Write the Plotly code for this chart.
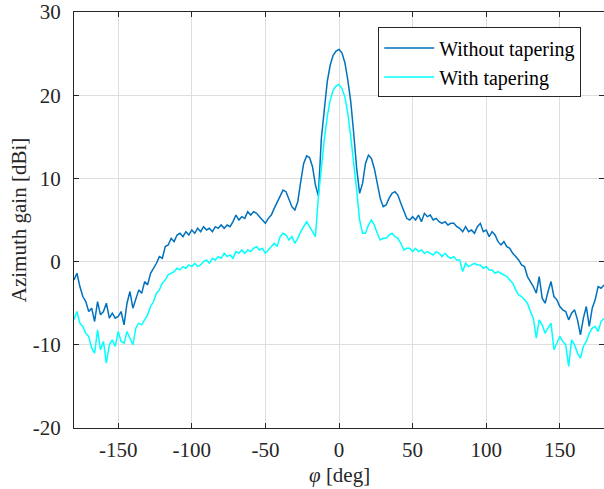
import numpy as np
import plotly.graph_objects as go

phi = list(range(-180, 181, 2))

gain_without = [
    -2.2, -1.4, -3.0, -4.2, -4.8, -6.0, -5.6, -7.2, -4.8, -6.4,
    -6.0, -5.0, -6.8, -6.2, -6.8, -6.6, -6.0, -7.6, -5.0, -3.6,
    -5.6, -4.4, -3.4, -3.8, -2.4, -2.8, -1.4, -0.8, -0.2, 0.6,
    0.4, 1.8, 2.0, 2.8, 2.4, 3.2, 3.4, 3.0, 3.6, 3.2,
    3.8, 3.4, 4.0, 3.6, 4.2, 3.8, 4.0, 3.6, 4.2, 4.0,
    4.4, 4.0, 4.4, 4.2, 4.8, 5.6, 5.0, 5.4, 5.2, 6.0,
    5.6, 6.0, 5.8, 5.4, 5.0, 4.6, 5.2, 5.6, 6.4, 7.2,
    8.0, 8.6, 8.4, 7.6, 6.6, 6.2, 7.2, 9.6, 11.8, 12.7,
    12.5, 11.4, 9.2, 7.9, 14.8, 18.2, 21.6, 23.6, 24.8, 25.3,
    25.5,
    25.1, 23.9, 21.8, 19.2, 15.4, 11.2, 8.2, 9.4, 11.8, 12.8,
    12.4, 11.2, 9.4, 7.6, 6.6, 6.8, 7.6, 8.2, 8.4, 8.0,
    7.0, 6.0, 5.2, 5.0, 5.4, 5.0, 5.6, 4.8, 5.8, 5.4,
    5.6, 5.0, 5.2, 4.8, 4.6, 4.8, 4.4, 4.6, 4.6, 4.2,
    4.0, 3.6, 4.2, 3.6, 3.8, 3.4, 4.2, 4.6, 3.6, 3.8,
    3.0, 3.6, 3.2, 2.4, 2.0, 2.4, 1.8, 1.6, 1.0, 0.6,
    0.2, -0.4, -0.6, -1.8, -2.4, -3.0, -3.8, -1.8, -4.4, -5.0,
    -3.6, -2.4, -4.2, -4.6, -5.4, -5.8, -6.0, -7.0, -6.2, -5.8,
    -7.0, -8.8, -6.8, -5.4, -7.8, -5.6, -4.6, -3.0, -3.2, -2.8,
]

gain_with = [
    -7.0, -6.0, -7.4, -7.8, -8.6, -9.0, -10.4, -11.0, -8.2, -10.6,
    -9.6, -12.2, -10.0, -9.4, -10.2, -8.4, -9.6, -9.8, -8.4, -9.2,
    -10.0, -8.0, -7.4, -7.6, -7.0, -6.4, -5.4, -4.8, -3.8, -3.4,
    -2.6, -2.2, -1.6, -1.4, -1.2, -0.8, -1.0, -0.6, -0.8, -0.4,
    -0.6, -0.2, -0.6, -0.4, 0.0, 0.2, -0.2, 0.4, 0.2, 0.6,
    0.4, 1.0, 0.6, 0.8, 0.4, 1.2, 1.0, 1.4, 1.0, 1.4,
    1.2, 1.6, 1.8, 1.4, 1.6, 1.0, 1.4, 1.8, 2.2, 1.8,
    3.0, 3.4, 3.2, 2.6, 3.0, 2.2, 2.8, 3.6, 4.2, 4.8,
    4.2, 3.6, 3.0, 7.8, 11.4, 14.6, 17.4, 19.4, 20.6, 21.1,
    21.3,
    20.8, 19.8, 17.8, 15.0, 12.0, 8.6, 5.0, 3.4, 3.4, 4.4,
    5.0, 4.4, 3.4, 2.6, 2.8, 2.8, 3.2, 3.4, 3.0, 2.8,
    2.2, 1.4, 1.6, 1.6, 1.2, 1.6, 1.2, 1.4, 1.0, 1.2,
    1.0, 0.8, 1.2, 1.0, 0.6, 1.0, 0.6, 0.4, 0.6, 0.2,
    0.2, -1.2, -0.2, -0.6, -0.4, -0.2, -0.4, -0.4, -0.8, -0.6,
    -1.0, -1.0, -1.4, -1.2, -1.4, -1.6, -1.8, -2.2, -2.6, -3.4,
    -4.0, -4.2, -4.6, -5.0, -6.0, -6.8, -9.2, -7.0, -7.6, -8.6,
    -8.0, -7.4, -10.6, -9.8, -9.0, -9.6, -10.0, -12.6, -9.4, -10.0,
    -11.0, -11.6, -10.2, -9.6, -8.6, -8.0, -7.8, -8.4, -7.2, -6.8,
]

x_ticks = [-150, -100, -50, 0, 50, 100, 150]
x_tick_labels = ["-150", "-100", "-50", "0", "50", "100", "150"]
y_ticks = [-20, -10, 0, 10, 20, 30]
y_tick_labels = ["-20", "-10", "0", "10", "20", "30"]

font_family = "Liberation Serif"
text_color = "#262626"

fig = go.Figure()
fig.add_trace(go.Scatter(x=phi, y=gain_without, mode="lines", name="Without tapering",
                         line=dict(color="#0072BD", width=1.5)))
fig.add_trace(go.Scatter(x=phi, y=gain_with, mode="lines", name="With tapering",
                         line=dict(color="#00FFFF", width=1.5)))

axis_common = dict(showline=True, linecolor=text_color, linewidth=1.2, mirror="ticks",
                   ticks="inside", ticklen=5, tickcolor=text_color, tickwidth=1.2,
                   showgrid=True, gridcolor="#dedede", gridwidth=1, zeroline=False,
                   ticklabeloverflow="allow",
                   tickfont=dict(family=font_family, size=21, color=text_color))

fig.update_xaxes(range=[-180, 180], tickvals=x_ticks, ticktext=x_tick_labels,
                 ticklabelstandoff=3, **axis_common)
fig.update_yaxes(range=[-20, 30], tickvals=y_ticks, ticktext=y_tick_labels,
                 ticklabelstandoff=8,
                 title=dict(text="Azimuth gain [dBi]",
                            font=dict(family=font_family, size=21, color=text_color),
                            standoff=0),
                 **axis_common)

fig.add_annotation(text="<i>φ</i> [deg]", xref="paper", yref="paper", x=0.5, y=0,
                   yshift=-47, xanchor="center", yanchor="middle", showarrow=False,
                   font=dict(family=font_family, size=21, color=text_color))

fig.update_layout(
    width=604, height=489,
    margin=dict(l=74, r=0, t=12, b=61, autoexpand=False),
    paper_bgcolor="white", plot_bgcolor="white",
    font=dict(family=font_family, size=21, color=text_color),
    showlegend=True,
    legend=dict(x=0.574, y=0.963, xanchor="left", yanchor="top",
                bgcolor="white", bordercolor=text_color, borderwidth=1,
                font=dict(family=font_family, size=20, color="#000000"),
                itemwidth=50, tracegroupgap=0),
)

# Remove the default 8px page margin so the figure sits at the window's corner.
fig.write_html("out.html", config={"displayModeBar": False},
               post_script="document.body.style.margin='0';")
